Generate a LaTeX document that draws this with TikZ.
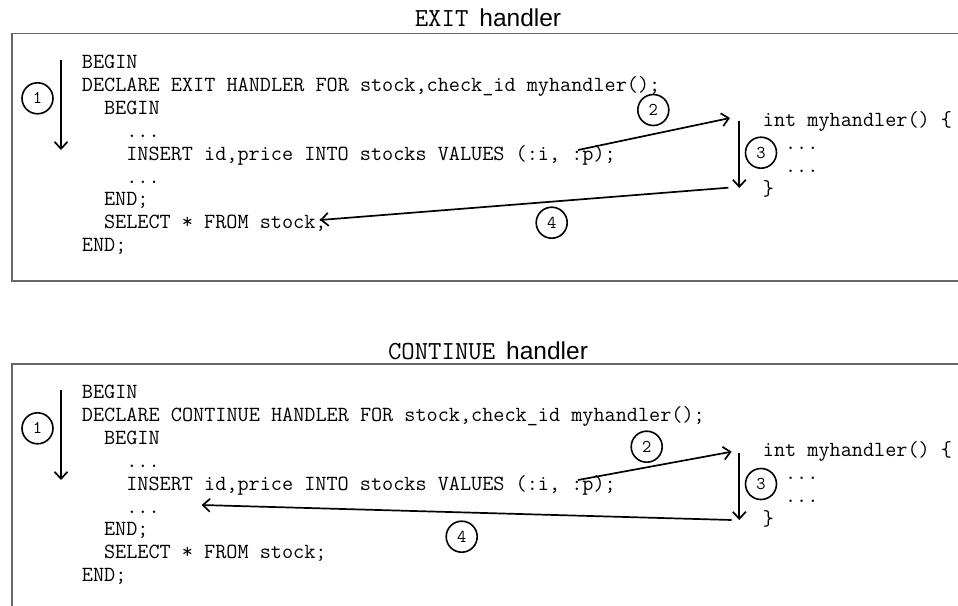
\documentclass[tikz,border=0pt]{standalone}
\usepackage{fontspec}
\setsansfont{Liberation Sans}
\usetikzlibrary{arrows.meta}

\begin{document}
\begin{tikzpicture}[x=1pt,y=-1pt,
  frame/.style={draw=black!60, line width=1.3pt},
  code/.style={anchor=base west, inner sep=0pt, font=\ttfamily\fontsize{21.6}{25}\selectfont},
  title/.style={anchor=base, inner sep=0pt, font=\sffamily\fontsize{24.5}{29}\selectfont},
  num/.style={circle, draw, line width=1.6pt, minimum size=31pt, inner sep=0pt, font=\ttfamily\fontsize{18}{18}\selectfont},
  flow/.style={line width=1.7pt, -{Straight Barb[length=7pt,width=13pt]}}]
 \useasboundingbox (0,0) rectangle (958,605);
 \clip (0,0) rectangle (958,605);
 \fill[white] (0,0) rectangle (958,605);

 % EXIT handler
 \node[title] (exittitle) at (488,26.7) {{\ttfamily\fontsize{26}{29}\selectfont EXIT}\hspace{0.45em}handler};
 \draw[frame] (12,33.5) rectangle (1000,281);
 \node[code] (ebegin) at (81.7,68.5) {BEGIN};
 \node[code] (edeclare) at (81.7,91.4) {DECLARE EXIT HANDLER FOR stock,check\_id myhandler();};
 \node[code] (einbegin) at (103.9,114.3) {BEGIN};
 \node[code] (edots1) at (126.1,137.2) {...};
 \node[code] (einsert) at (126.1,160.1) {INSERT id,price INTO stocks VALUES (:i, :p);};
 \node[code] (edots2) at (126.1,183) {...};
 \node[code] (einend) at (103.9,205.9) {END;};
 \node[code] (eselect) at (103.9,228.8) {SELECT * FROM stock;};
 \node[code] (eend) at (81.7,251.7) {END;};
 \node[code] (ehead) at (762.7,126) {int myhandler() \{};
 \node[code] (ebody1) at (784.9,149) {...};
 \node[code] (ebody2) at (784.9,172) {...};
 \node[code] (eclose) at (762.7,195) {\}};
 \node[num] (eone) at (37.5,98.3) {1};
 \node[num] (etwo) at (653.3,110) {2};
 \node[num] (ethree) at (761,152.7) {3};
 \node[num] (efour) at (551.7,222.7) {4};
 \coordinate (eflowtop) at (61,60);
 \coordinate (eflowbot) at (61,150);
 \coordinate (eraise) at (578,150);
 \coordinate (ecall) at (730,118);
 \coordinate (erunA) at (739.3,120.7);
 \coordinate (erunB) at (739.3,188);
 \coordinate (eleave) at (728.3,187.7);
 \coordinate (eback) at (320,220);
 \draw[flow] (eflowtop) -- (eflowbot);
 \draw[flow] (eraise) -- (ecall);
 \draw[flow] (erunA) -- (erunB);
 \draw[flow] (eleave) -- (eback);

 % CONTINUE handler
 \node[title] (conttitle) at (488,359.7) {{\ttfamily\fontsize{26}{29}\selectfont CONTINUE}\hspace{0.45em}handler};
 \draw[frame] (12,364) rectangle (1000,700);
 \node[code] (cbegin) at (81.7,398.5) {BEGIN};
 \node[code] (cdeclare) at (81.7,421.4) {DECLARE CONTINUE HANDLER FOR stock,check\_id myhandler();};
 \node[code] (cinbegin) at (103.9,444.3) {BEGIN};
 \node[code] (cdots1) at (126.1,467.2) {...};
 \node[code] (cinsert) at (126.1,490.1) {INSERT id,price INTO stocks VALUES (:i, :p);};
 \node[code] (cdots2) at (126.1,513) {...};
 \node[code] (cinend) at (103.9,535.9) {END;};
 \node[code] (cselect) at (103.9,558.8) {SELECT * FROM stock;};
 \node[code] (cend) at (81.7,581.7) {END;};
 \node[code] (chead) at (762.7,456.5) {int myhandler() \{};
 \node[code] (cbody1) at (784.9,479.5) {...};
 \node[code] (cbody2) at (784.9,502.5) {...};
 \node[code] (cclose) at (762.7,525.5) {\}};
 \node[num] (cone) at (37.5,428.3) {1};
 \node[num] (ctwo) at (646.7,446.7) {2};
 \node[num] (cthree) at (761,484) {3};
 \node[num] (cfour) at (461.7,536.7) {4};
 \coordinate (cflowtop) at (61,390);
 \coordinate (cflowbot) at (61,480);
 \coordinate (craise) at (578,480);
 \coordinate (ccall) at (731.7,451.7);
 \coordinate (crunA) at (739.3,452.7);
 \coordinate (crunB) at (739.3,520);
 \coordinate (cleave) at (731.7,520);
 \coordinate (cback) at (201.7,505);
 \draw[flow] (cflowtop) -- (cflowbot);
 \draw[flow] (craise) -- (ccall);
 \draw[flow] (crunA) -- (crunB);
 \draw[flow] (cleave) -- (cback);
\end{tikzpicture}
\end{document}
